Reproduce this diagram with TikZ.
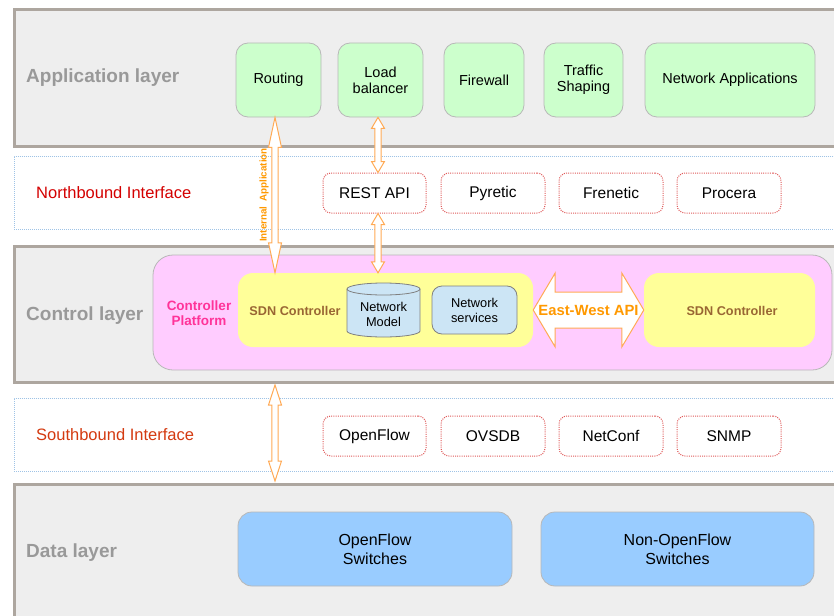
\documentclass[tikz,border=0pt]{standalone}
\usepackage{fontspec}
\setmainfont{Liberation Sans}
\usetikzlibrary{calc}
\definecolor{layerfill}{HTML}{EEEEEE}
\definecolor{layerborder}{HTML}{ADA69F}
\definecolor{layertext}{HTML}{999999}
\definecolor{appgreen}{HTML}{CCFFCC}
\definecolor{boxborder}{HTML}{B8B8B8}
\definecolor{ifaceblue}{HTML}{9FC3E6}
\definecolor{itemred}{HTML}{E05A5A}
\definecolor{nbred}{HTML}{D40000}
\definecolor{sbred}{HTML}{D43A10}
\definecolor{pinkfill}{HTML}{FFCCFF}
\definecolor{magentatext}{HTML}{FF3399}
\definecolor{yellowfill}{HTML}{FFFF99}
\definecolor{browntext}{HTML}{996633}
\definecolor{lightblue}{HTML}{CCE5F5}
\definecolor{cylborder}{HTML}{808080}
\definecolor{orangetext}{HTML}{FF9900}
\definecolor{orangeline}{HTML}{FFAA55}
\definecolor{switchblue}{HTML}{99CCFF}
\newcommand\vdarr[4]{%
\draw[arrstyle] let \p1=#1, \p2=#2, \p3=#3 in
 (\x1,\y2) -- (\x1+6.5pt,\y2-#4) -- (\x1+3.2pt,\y2-#4) -- (\x1+3.2pt,\y3+#4) -- (\x1+6.5pt,\y3+#4) -- (\x1,\y3)
 -- (\x1-6.5pt,\y3+#4) -- (\x1-3.2pt,\y3+#4) -- (\x1-3.2pt,\y2-#4) -- (\x1-6.5pt,\y2-#4) -- cycle;}
\begin{document}
\begin{tikzpicture}[x=1pt,y=-1pt,
  layer/.style={draw=layerborder, line width=3pt, fill=layerfill, inner sep=0pt},
  iface/.style={draw=ifaceblue, line width=0.8pt, dash pattern=on 1pt off 1pt, inner sep=0pt},
  layerlabel/.style={anchor=west, text=layertext, font=\bfseries\fontsize{19}{22}\selectfont, inner sep=0pt},
  app/.style={draw=boxborder, fill=appgreen, rounded corners=12pt, minimum height=74pt, inner sep=0pt, align=center, font=\fontsize{14.5}{17}\selectfont, line width=0.8pt},
  item/.style={draw=itemred, fill=white, rounded corners=8pt, minimum height=40pt, minimum width=104pt, inner sep=0pt, line width=1pt, dash pattern=on 1pt off 1.2pt, font=\fontsize{15.5}{18}\selectfont},
  ifacelabel/.style={anchor=west, inner sep=0pt, font=\fontsize{16.5}{19}\selectfont},
  yelbox/.style={fill=yellowfill, rounded corners=15pt, minimum height=74pt, inner sep=0pt},
  sdntext/.style={text=browntext, font=\bfseries\fontsize{12.7}{15}\selectfont, inner sep=0pt},
  smalltext/.style={align=center, font=\fontsize{12.8}{15}\selectfont, inner sep=0pt},
  switch/.style={draw=boxborder, fill=switchblue, rounded corners=14pt, minimum height=74pt, inner sep=0pt, align=center, font=\fontsize{16}{19}\selectfont, line width=0.8pt},
  arrstyle/.style={draw=orangeline, fill=white, line width=1pt, line join=miter}
]
\clip (0,0) rectangle (834,615);
\fill[white] (0,0) rectangle (834,615);
% layers
\node[layer, minimum width=832pt, minimum height=136pt, anchor=north west] (applayer) at (12.5,8.5) {};
\node[iface, minimum width=830pt, minimum height=73pt, anchor=north west] (nbi) at (14,155.5) {};
\node[layer, minimum width=832pt, minimum height=136pt, anchor=north west] (ctllayer) at (12.5,244.5) {};
\node[iface, minimum width=830pt, minimum height=73pt, anchor=north west] (sbi) at (14,397.5) {};
\node[layer, minimum width=832pt, minimum height=140pt, anchor=north west] (datalayer) at (12.5,482.5) {};
% layer labels
\node[layerlabel] (applbl) at (26,78) {Application layer};
\node[layerlabel] (ctllbl) at (26,315.5) {Control layer};
\node[layerlabel] (datalbl) at (26,552.5) {Data layer};
\node[ifacelabel, text=nbred] (nblbl) at (36,193) {Northbound Interface};
\node[ifacelabel, text=sbred] (sblbl) at (36,435) {Southbound Interface};
% applications
\node[app, minimum width=85pt] (routing) at (278.5,80) {\raisebox{-1pt}{Routing}};
\node[app, minimum width=85pt] (load) at (380.5,80) {\raisebox{-1pt}{Load}\\balancer};
\node[app, minimum width=80pt] (firewall) at (484,80) {\raisebox{-1pt}{Firewall}};
\node[app, minimum width=79pt] (traffic) at (583.5,80) {\raisebox{-1pt}{Traffic}\\Shaping};
\node[app, minimum width=170pt] (netapps) at (730,80) {\raisebox{-1pt}{Network Applications}};
% northbound items
\node[item, minimum width=103pt] (rest) at (374.5,193) {REST API};
\node[item] (pyretic) at (493,193) {Pyretic};
\node[item] (frenetic) at (611,193) {Frenetic};
\node[item] (procera) at (729,193) {Procera};
% control platform
\node[draw=boxborder, fill=pinkfill, rounded corners=20pt, minimum width=679pt, minimum height=115pt, inner sep=0pt, line width=0.8pt] (platform) at (492.5,312.5) {};
\node[text=magentatext, align=center, font=\bfseries\fontsize{13.5}{15}\selectfont, inner sep=0pt] (platlbl) at (199,313) {Controller\\Platform};
\node[yelbox, minimum width=295pt] (sdnL) at (385.5,310) {};
\node[sdntext] (sdnLlbl) at (295,310.5) {SDN Controller};
\node[yelbox, minimum width=171pt] (sdnR) at (729.5,310) {};
\node[sdntext] (sdnRlbl) at (732,310.5) {SDN Controller};
% network model cylinder
\draw[draw=cylborder, fill=lightblue, line width=0.8pt] (347,289) -- (347,331) arc[start angle=180, end angle=360, x radius=36.5pt, y radius=6pt] -- (420,289) arc[start angle=0, end angle=180, x radius=36.5pt, y radius=6pt] -- cycle;
\draw[draw=cylborder, line width=0.8pt] (347,289) arc[start angle=180, end angle=360, x radius=36.5pt, y radius=6pt];
\node[smalltext, minimum width=73pt] (netmodel) at (383.5,314) {Network\\Model};
\node[draw=cylborder, fill=lightblue, rounded corners=10pt, minimum width=85pt, minimum height=48pt, line width=0.8pt, smalltext] (netserv) at (474.5,310) {Network\\services};
% east-west arrow
\draw[arrstyle] let \p1=(sdnL.east), \p2=(sdnR.west) in
  (\x1,\y1) -- (\x1+22pt,\y1+37pt) -- (\x1+22pt,\y1+18pt) -- (\x2-22pt,\y1+18pt) -- (\x2-22pt,\y1+37pt) -- (\x2,\y1)
  -- (\x2-22pt,\y1-37pt) -- (\x2-22pt,\y1-18pt) -- (\x1+22pt,\y1-18pt) -- (\x1+22pt,\y1-37pt) -- cycle;
\node[text=orangetext, font=\bfseries\fontsize{14.8}{17}\selectfont, inner sep=0pt] (ewlbl) at ($(sdnL.east)!0.5!(sdnR.west)$) {East-West API};
% southbound items
\node[item, minimum width=103pt] (openflow) at (374.5,436) {OpenFlow};
\node[item] (ovsdb) at (493,436) {OVSDB};
\node[item] (netconf) at (611,436) {NetConf};
\node[item] (snmp) at (729,436) {SNMP};
% data layer
\node[switch, minimum width=274pt] (ofsw) at (375,549) {OpenFlow\\Switches};
\node[switch, minimum width=273pt] (nofsw) at (677.5,549) {Non-OpenFlow\\Switches};
% vertical arrows
\vdarr{([xshift=-3.5pt]routing.south)}{(routing.south)}{(sdnL.north)}{30pt}
\vdarr{([xshift=-2.5pt]load.south)}{(load.south)}{(rest.north)}{11pt}
\vdarr{([xshift=-2.5pt]load.south)}{(rest.south)}{(sdnL.north)}{11pt}
\vdarr{([xshift=-3.5pt]routing.south)}{([yshift=-1.5pt]ctllayer.south)}{([yshift=1.5pt]datalayer.north)}{20pt}
\node[rotate=90, text=orangetext, font=\bfseries\fontsize{9.8}{11}\selectfont, inner sep=0pt] (intlbl) at (264,195) {Internal\hspace{0.5em}Application};
\end{tikzpicture}
\end{document}
